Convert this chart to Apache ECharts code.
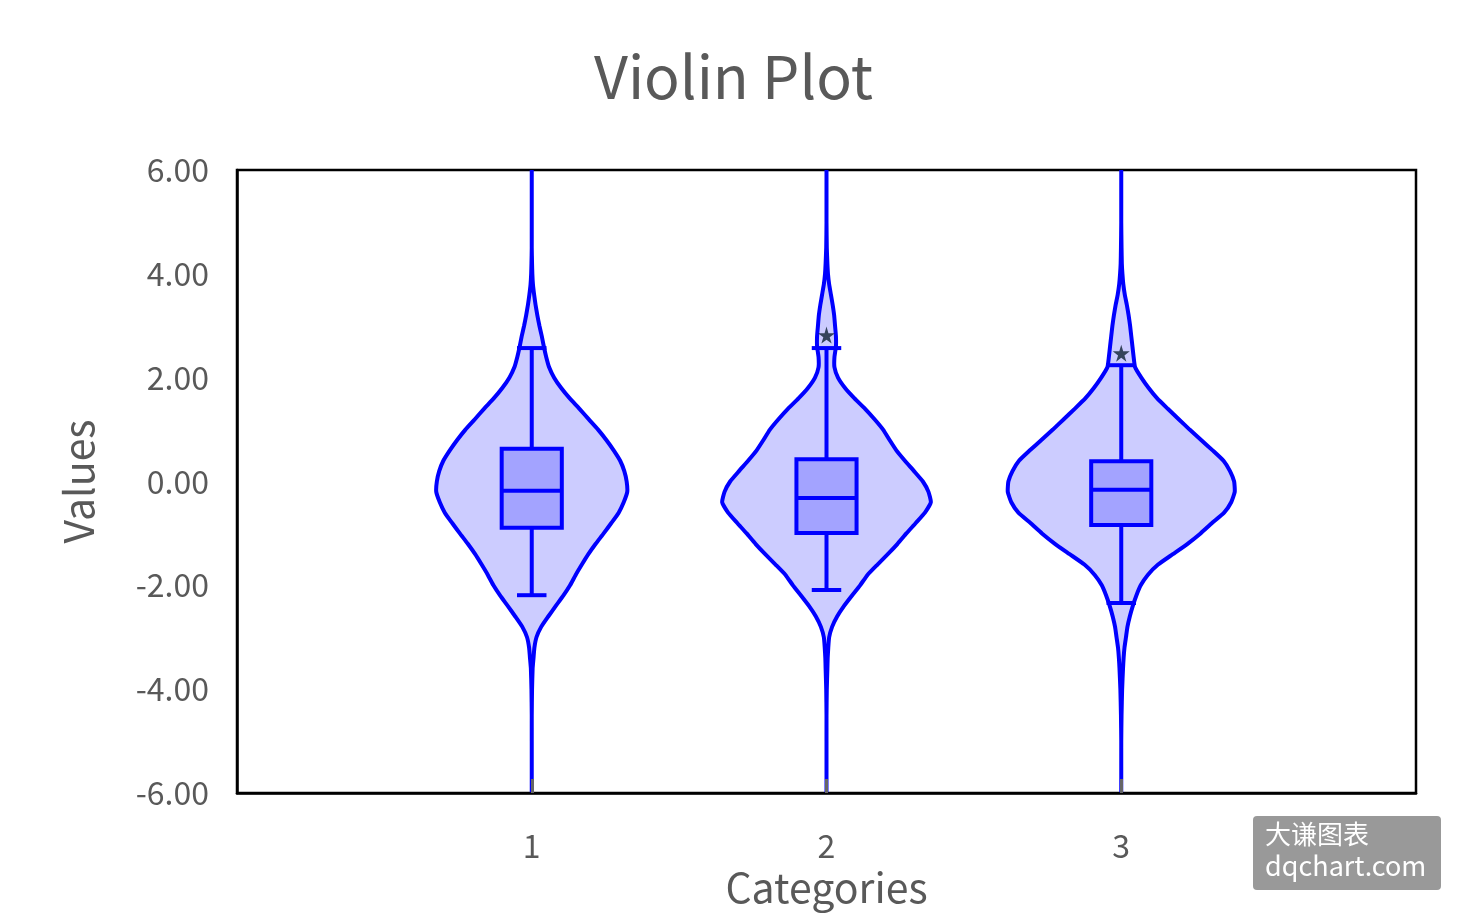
<!DOCTYPE html>
<html>
<head>
<meta charset="utf-8">
<script src="https://cdn.jsdelivr.net/npm/echarts@6/dist/echarts.min.js"></script>
<style>html,body{margin:0;padding:0;background:#fff}#main{width:1467px;height:917px}</style>
</head>
<body>
<div id="main"></div>
<script>
// ---- data ----
var categories = [1, 2, 3];
var yTicks = [-6, -4, -2, 0, 2, 4, 6];
// value levels at which the violin half-widths (in x-axis units) are given
var levels = [-6,-5,-4.5,-4,-3.6,-3.4,-3.2,-3.0,-2.8,-2.6,-2.4,-2.2,-2.0,-1.8,-1.6,-1.4,-1.2,-1.0,-0.8,-0.6,-0.4,-0.2,0,0.2,0.4,0.6,0.8,1.0,1.2,1.4,1.6,1.8,2.0,2.2,2.4,2.6,2.8,3.0,3.2,3.4,3.6,3.8,4.0,4.2,4.5,5,6];
var width1 = [0,0,0,0.001,0.003,0.006,0.009,0.016,0.032,0.056,0.081,0.107,0.13,0.149,0.17,0.192,0.217,0.244,0.27,0.295,0.312,0.324,0.322,0.314,0.3,0.278,0.253,0.225,0.193,0.162,0.129,0.1,0.076,0.059,0.049,0.041,0.034,0.026,0.019,0.013,0.008,0.004,0.002,0.001,0,0,0];
var width2 = [0,0,0,0.001,0.003,0.004,0.006,0.009,0.019,0.036,0.059,0.086,0.114,0.139,0.173,0.208,0.241,0.271,0.303,0.334,0.354,0.346,0.327,0.297,0.266,0.237,0.214,0.192,0.163,0.131,0.095,0.063,0.039,0.027,0.027,0.032,0.032,0.029,0.026,0.021,0.015,0.009,0.005,0.003,0.001,0,0];
var width3 = [0,0,0.001,0.003,0.006,0.008,0.011,0.016,0.021,0.029,0.039,0.051,0.066,0.09,0.125,0.175,0.225,0.269,0.308,0.349,0.373,0.385,0.383,0.369,0.347,0.31,0.271,0.232,0.195,0.158,0.122,0.093,0.068,0.047,0.042,0.038,0.034,0.03,0.025,0.019,0.012,0.007,0.004,0.002,0.001,0,0];
var whiskerLow  = [-2.19, -2.09, -2.34];
var q1          = [-0.89, -0.99, -0.84];
var median      = [-0.18, -0.32, -0.16];
var q3          = [0.63, 0.43, 0.39];
var whiskerHigh = [2.57, 2.57, 2.24];
var outliers    = [[], [2.82], [2.47]];

// ---- chart ----
var widths = [width1, width2, width3];
var BLUE = '#0000ff';
var FONT = 'Noto Sans CJK SC, Noto Sans, sans-serif';
var boxHalf = 0.102, capHalf = 0.05;

var outlierData = [];
categories.forEach(function (c, i) {
  outliers[i].forEach(function (v) { outlierData.push([c, v]); });
});

function renderViolin(params, api) {
  var i = params.dataIndex;
  var c = categories[i];
  var w = widths[i];
  var pts = [];
  for (var k = 0; k < levels.length; k++) pts.push(api.coord([c + w[k], levels[k]]));
  for (var k = levels.length - 1; k >= 0; k--) pts.push(api.coord([c - w[k], levels[k]]));
  var lw = 4;
  var pLow = api.coord([c, whiskerLow[i]]);
  var pHigh = api.coord([c, whiskerHigh[i]]);
  var b1 = api.coord([c - boxHalf, q3[i]]);
  var b2 = api.coord([c + boxHalf, q1[i]]);
  var m1 = api.coord([c - boxHalf, median[i]]);
  var m2 = api.coord([c + boxHalf, median[i]]);
  var cl1 = api.coord([c - capHalf, whiskerLow[i]]);
  var cl2 = api.coord([c + capHalf, whiskerLow[i]]);
  var ch1 = api.coord([c - capHalf, whiskerHigh[i]]);
  var ch2 = api.coord([c + capHalf, whiskerHigh[i]]);
  return {
    type: 'group',
    children: [
      { type: 'polygon', shape: { points: pts, smooth: 0.15 }, style: { fill: '#ccccff', stroke: BLUE, lineWidth: lw, lineJoin: 'round' } },
      { type: 'line', shape: { x1: pLow[0], y1: pLow[1], x2: pHigh[0], y2: pHigh[1] }, style: { stroke: BLUE, lineWidth: lw } },
      { type: 'line', shape: { x1: cl1[0], y1: cl1[1], x2: cl2[0], y2: cl2[1] }, style: { stroke: BLUE, lineWidth: lw } },
      { type: 'line', shape: { x1: ch1[0], y1: ch1[1], x2: ch2[0], y2: ch2[1] }, style: { stroke: BLUE, lineWidth: lw } },
      { type: 'rect', shape: { x: b1[0], y: b1[1], width: b2[0] - b1[0], height: b2[1] - b1[1] }, style: { fill: '#a3a3ff', stroke: BLUE, lineWidth: lw } },
      { type: 'line', shape: { x1: m1[0], y1: m1[1], x2: m2[0], y2: m2[1] }, style: { stroke: BLUE, lineWidth: lw } }
    ]
  };
}

var chart = echarts.init(document.getElementById('main'));
chart.setOption({
  animation: false,
  backgroundColor: '#fff',
  title: {
    text: 'Violin Plot', left: 'center', top: 42,
    textStyle: { fontSize: 59, fontWeight: 'normal', color: '#595959', fontFamily: FONT }
  },
  grid: { left: 237, right: 51, top: 170, bottom: 124, show: true, borderColor: '#000', borderWidth: 2.5, backgroundColor: 'transparent' },
  xAxis: {
    type: 'value', min: 0, max: 4, interval: 1, z: 5,
    name: 'Categories', nameLocation: 'middle', nameGap: 68,
    nameTextStyle: { fontSize: 41, color: '#595959', fontFamily: FONT },
    axisLine: { show: true, onZero: false, lineStyle: { color: '#000', width: 2.5 } },
    axisTick: { show: true, inside: true, length: 14, customValues: categories, lineStyle: { color: '#666', width: 3 } },
    axisLabel: { customValues: categories, fontSize: 32, color: '#595959', margin: 37, fontFamily: FONT },
    splitLine: { show: false }
  },
  yAxis: {
    type: 'value', min: -6, max: 6, interval: 2,
    name: 'Values', nameLocation: 'middle', nameGap: 138,
    nameTextStyle: { fontSize: 41, color: '#595959', fontFamily: FONT },
    axisLine: { show: true, onZero: false, lineStyle: { color: '#000', width: 2.5 } },
    axisTick: { show: false },
    axisLabel: { customValues: yTicks, fontSize: 32, color: '#595959', margin: 28, fontFamily: FONT,
      formatter: function (v) { return v.toFixed(2); } },
    splitLine: { show: false }
  },
  series: [
    {
      type: 'custom', renderItem: renderViolin, clip: true,
      data: categories.map(function (c) { return [c]; }), z: 2
    },
    {
      type: 'scatter', data: outlierData, z: 4,
      symbol: 'path://M50,0 L61,35 L98,35 L68,57 L79,91 L50,70 L21,91 L32,57 L2,35 L39,35 Z',
      symbolSize: 17, itemStyle: { color: '#0f2233' }
    }
  ],
  graphic: [
    {
      type: 'group', left: 1253, top: 816,
      children: [
        { type: 'rect', shape: { x: 0, y: 0, width: 188, height: 74, r: 4 }, style: { fill: '#999999' } },
        { type: 'text', x: 12, y: 5, style: { text: '大谦图表', fill: '#fff', fontSize: 26, fontFamily: 'Noto Sans CJK SC' } },
        { type: 'text', x: 12, y: 36, style: { text: 'dqchart.com', fill: '#fff', fontSize: 27, fontFamily: FONT } }
      ]
    }
  ]
});
</script>
</body>
</html>
